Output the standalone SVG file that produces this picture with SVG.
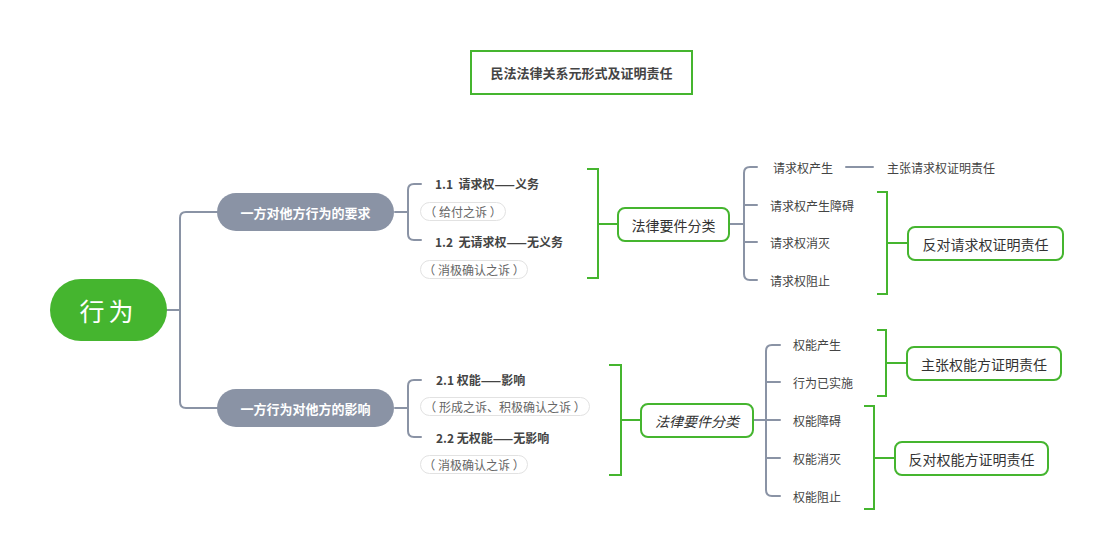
<svg xmlns="http://www.w3.org/2000/svg" width="1112" height="560" viewBox="0 0 1112 560">
<style>
text{font-family:"Noto Sans CJK SC","Noto Sans",sans-serif;}
.g{fill:none;stroke:#8a93a5;stroke-width:2;stroke-linecap:round;}
.gr{fill:none;stroke:#45b52f;stroke-width:2;}
.box{fill:#fff;stroke:#45b52f;stroke-width:2;}
.br{fill:#8a93a5;}
.bt{fill:#fff;font-size:13px;font-weight:bold;text-anchor:middle;dominant-baseline:central;}
.t{fill:#444;font-size:12px;dominant-baseline:central;}
.tb{fill:#444;font-size:12px;font-weight:bold;dominant-baseline:central;}
.pill{fill:#fff;stroke:#e2e2e2;stroke-width:1;}
.pt{fill:#666;font-size:12px;text-anchor:middle;dominant-baseline:central;}
.bx{fill:#333;font-size:14px;text-anchor:middle;dominant-baseline:central;}
</style>
<rect width="1112" height="560" fill="#fff"/>
<g id="connectors">
<path class="g" d="M167 310 H180 M218 212 H186 Q180 212 180 218 V402 Q180 408 186 408 H218"/>
<path class="g" d="M395 212 H408 M421 184 H414 Q408 184 408 190 V234 Q408 240 414 240 H421"/>
<path class="g" d="M395 408 H408 M421 380 H414 Q408 380 408 386 V431 Q408 437 414 437 H421"/>
<path class="gr" d="M587 169 H598 V278 H587 M598 224 H618"/>
<path class="gr" d="M609 365 H621 V475 H609 M621 420 H641"/>
<path class="g" d="M729 224 H744 M757 167 H750 Q744 167 744 173 V274 Q744 280 750 280 H757 M744 205 H757 M744 242 H757"/>
<path class="g" d="M846 167 H873"/>
<path class="gr" d="M877 192 H887 V294 H877 M887 243 H908"/>
<path class="g" d="M753 420 H766 M780 345 H772 Q766 345 766 351 V490 Q766 496 772 496 H780 M766 382 H780 M766 420 H780 M766 458 H780"/>
<path class="gr" d="M877 330 H886 V396 H877 M886 363 H907"/>
<path class="gr" d="M864 406 H874 V509 H864 M874 458 H895"/>
</g>
<g id="title">
<rect x="471" y="51" width="221" height="43" fill="#fff" stroke="#45b52f" stroke-width="2"/>
<text x="581.5" y="72.5" style="fill:#444;font-size:13px;font-weight:bold;text-anchor:middle;dominant-baseline:central">民法法律关系元形式及证明责任</text>
</g>
<g id="root">
<rect x="50" y="279" width="117" height="62" rx="31" fill="#45b52f"/>
<text x="108.5" y="310" style="fill:#fff;font-size:25px;text-anchor:middle;dominant-baseline:central;letter-spacing:4px">行为</text>
</g>
<g id="branch1">
<rect class="br" x="217" y="193" width="177" height="38" rx="19"/>
<text class="bt" x="305.5" y="212">一方对他方行为的要求</text>
</g>
<g id="branch2">
<rect class="br" x="217" y="389" width="177" height="38" rx="19"/>
<text class="bt" x="305.5" y="408">一方行为对他方的影响</text>
</g>
<g id="n11"><text class="tb" x="435" y="183">1.1&#160; 请求权——义务</text></g>
<g id="n11p"><rect class="pill" x="420.5" y="202.5" width="85" height="18" rx="9"/><text class="pt" x="463" y="211.5">（ 给付之诉 ）</text></g>
<g id="n12"><text class="tb" x="435" y="241">1.2&#160; 无请求权——无义务</text></g>
<g id="n12p"><rect class="pill" x="420.5" y="260.5" width="107" height="18" rx="9"/><text class="pt" x="474" y="269.5">（ 消极确认之诉 ）</text></g>
<g id="n21"><text class="tb" x="436" y="379">2.1 权能——影响</text></g>
<g id="n21p"><rect class="pill" x="420.5" y="397.5" width="169" height="18" rx="9"/><text class="pt" x="505" y="406.5">（ 形成之诉、积极确认之诉 ）</text></g>
<g id="n22"><text class="tb" x="436" y="437">2.2 无权能——无影响</text></g>
<g id="n22p"><rect class="pill" x="420.5" y="455.5" width="107" height="18" rx="9"/><text class="pt" x="474" y="464.5">（ 消极确认之诉 ）</text></g>
<g id="cls1"><rect class="box" x="618" y="208" width="111" height="33" rx="7"/><text class="bx" x="673.5" y="224.5">法律要件分类</text></g>
<g id="cls2"><rect class="box" x="641" y="404" width="112" height="33" rx="7"/><text class="bx" x="697" y="420.5" style="font-style:italic">法律要件分类</text></g>
<g id="q1"><text class="t" x="773" y="167">请求权产生</text></g>
<g id="q2"><text class="t" x="770" y="205">请求权产生障碍</text></g>
<g id="q3"><text class="t" x="770" y="242">请求权消灭</text></g>
<g id="q4"><text class="t" x="770" y="280">请求权阻止</text></g>
<g id="q1r"><text class="t" x="887" y="167">主张请求权证明责任</text></g>
<g id="qbox"><rect class="box" x="908" y="227" width="155" height="33" rx="7"/><text class="bx" x="985.5" y="243.5">反对请求权证明责任</text></g>
<g id="p1"><text class="t" x="793" y="344">权能产生</text></g>
<g id="p2"><text class="t" x="793" y="382">行为已实施</text></g>
<g id="p3"><text class="t" x="793" y="420">权能障碍</text></g>
<g id="p4"><text class="t" x="793" y="458">权能消灭</text></g>
<g id="p5"><text class="t" x="793" y="496">权能阻止</text></g>
<g id="pbox1"><rect class="box" x="907" y="347" width="154" height="33" rx="7"/><text class="bx" x="984" y="363.5">主张权能方证明责任</text></g>
<g id="pbox2"><rect class="box" x="895" y="442" width="153" height="33" rx="7"/><text class="bx" x="971.5" y="458.5">反对权能方证明责任</text></g>
</svg>
